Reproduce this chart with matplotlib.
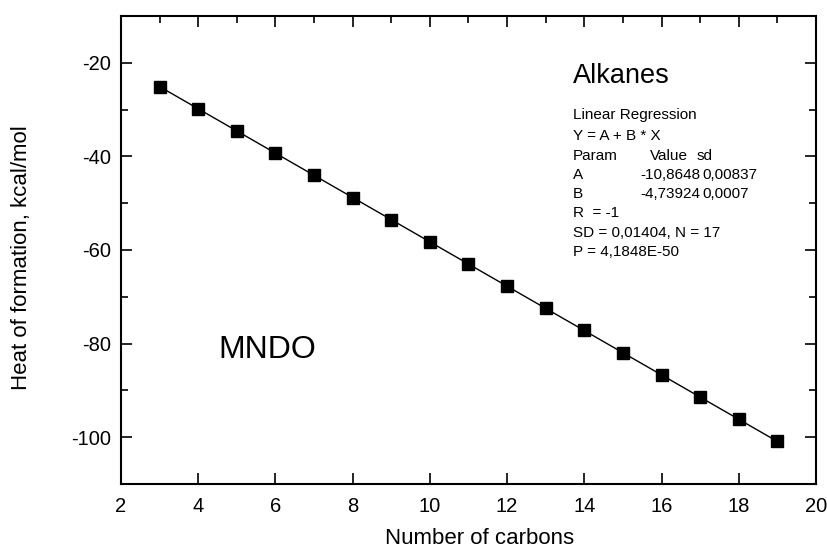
import matplotlib
matplotlib.use("Agg")
import matplotlib.pyplot as plt
from matplotlib.ticker import MultipleLocator
import numpy as np

plt.rcParams['font.family'] = ['Liberation Sans', 'DejaVu Sans']
plt.rcParams['axes.unicode_minus'] = False

carbons = [3, 4, 5, 6, 7, 8, 9, 10, 11, 12, 13, 14, 15, 16, 17, 18, 19]
heat = [-25.1, -29.8, -34.6, -39.3, -44.0, -48.8, -53.5, -58.3, -63.0,
        -67.7, -72.5, -77.2, -82.0, -86.7, -91.4, -96.2, -100.9]

reg_lines = ["Linear Regression", "Y = A + B * X"]
table_rows = [("Param", "Value", "sd"),
              ("A", "-10,8648", "0,00837"),
              ("B", "-4,73924", "0,0007")]
tail_lines = ["R  = -1", "SD = 0,01404, N = 17", "P = 4,1848E-50"]

W, H = 828, 550
L, R, T, B = 121, 816, 16, 484
fig = plt.figure(figsize=(8.28, 5.5), dpi=100)
ax = fig.add_axes([L / W, 1 - B / H, (R - L) / W, (B - T) / H])


def axfrac(px, py):
    return (px - L) / (R - L), (B - py) / (B - T)


b, a = np.polyfit(carbons, heat, 1)
xs = np.array([min(carbons), max(carbons)])
ax.plot(xs, a + b * xs, color='black', lw=1.0)
ax.plot(carbons, heat, 's', color='black', markersize=8)

ax.set_xlim(2, 20)
ax.set_ylim(-110, -10)
ax.xaxis.set_major_locator(MultipleLocator(2))
ax.xaxis.set_minor_locator(MultipleLocator(1))
ax.yaxis.set_major_locator(MultipleLocator(20))
ax.yaxis.set_minor_locator(MultipleLocator(10))
ax.tick_params(which='both', direction='in', top=True, right=True,
               labelsize=14.5, width=1.2, colors='black')
ax.tick_params(which='major', length=8)
ax.tick_params(axis='x', which='major', pad=9)
ax.tick_params(axis='y', which='major', pad=7)
ax.tick_params(which='minor', length=5)
ax.tick_params(axis='x', which='minor', bottom=False)
for s in ax.spines.values():
    s.set_linewidth(1.5)

ax.set_xlabel("Number of carbons", fontsize=16)
ax.set_ylabel("Heat of formation, kcal/mol", fontsize=16)
ax.xaxis.set_label_coords(*axfrac(480, 538))
ax.yaxis.set_label_coords(*axfrac(22, 258))
ax.xaxis.label.set_va('center')
ax.yaxis.label.set_va('center')

ax.text(*axfrac(573, 76), "Alkanes", transform=ax.transAxes,
        fontsize=19.5, va='center')
ax.text(*axfrac(218, 350), "MNDO", transform=ax.transAxes,
        fontsize=23, va='center')

fs = 11
ys = [115, 136, 156, 175, 194, 213, 233, 252]
fig.text(573 / W, 1 - ys[0] / H, reg_lines[0], fontsize=fs, va='center')
fig.text(573 / W, 1 - ys[1] / H, reg_lines[1], fontsize=fs, va='center')
col_x = [(573, 650, 697), (573, 640, 702), (573, 640, 702)]
for i, r in enumerate(table_rows):
    yy = 1 - ys[2 + i] / H
    for j in range(3):
        fig.text(col_x[i][j] / W, yy, r[j], fontsize=fs, va='center')
for i, ln in enumerate(tail_lines):
    fig.text(573 / W, 1 - ys[5 + i] / H, ln, fontsize=fs, va='center')

fig.savefig("out.png", dpi=100)
